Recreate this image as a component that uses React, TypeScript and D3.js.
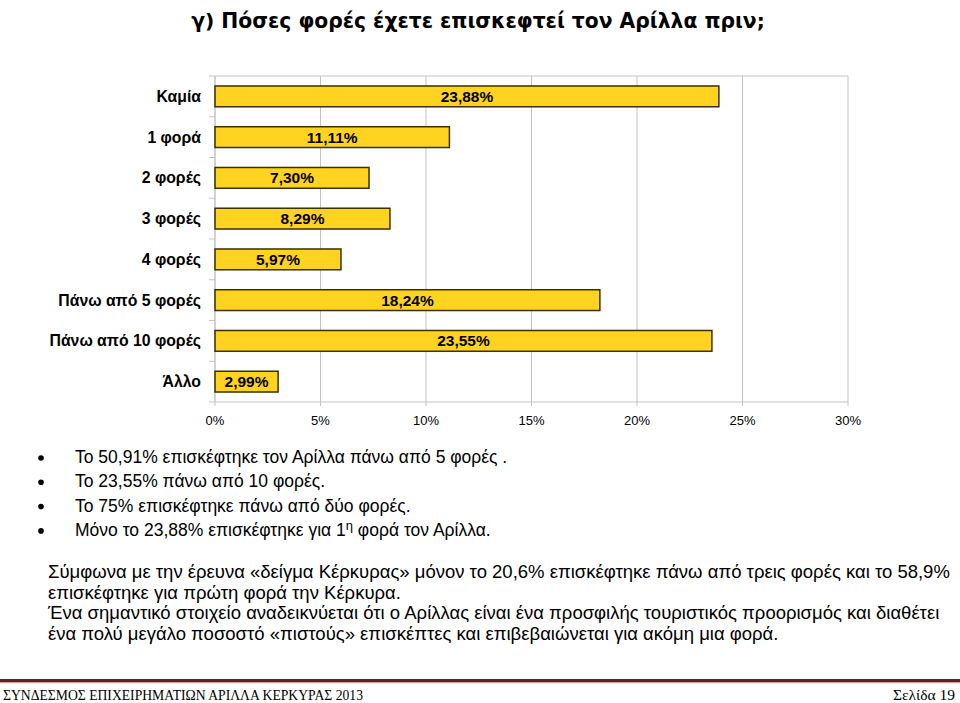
import React from "react";
import * as d3 from "d3";

const categories = ["Καμία", "1 φορά", "2 φορές", "3 φορές", "4 φορές", "Πάνω από 5 φορές", "Πάνω από 10 φορές", "Άλλο"];
const values = [23.88, 11.11, 7.3, 8.29, 5.97, 18.24, 23.55, 2.99];
const valueLabels = ["23,88%", "11,11%", "7,30%", "8,29%", "5,97%", "18,24%", "23,55%", "2,99%"];
const xTicks = [0, 5, 10, 15, 20, 25, 30];

const title = "γ) Πόσες φορές έχετε επισκεφτεί τον Αρίλλα πριν;";
const bullets = [
  ["Το 50,91% επισκέφτηκε τον Αρίλλα πάνω από 5 φορές .", "", ""],
  ["Το 23,55% πάνω από 10 φορές.", "", ""],
  ["Το 75% επισκέφτηκε πάνω από δύο φορές.", "", ""],
  ["Μόνο το 23,88% επισκέφτηκε για 1", "η", " φορά τον Αρίλλα."],
];
const paragraph = [
  "Σύμφωνα με την έρευνα «δείγμα Κέρκυρας» μόνον το 20,6% επισκέφτηκε πάνω από τρεις φορές και το 58,9%",
  "επισκέφτηκε για πρώτη φορά την Κέρκυρα.",
  "Ένα σημαντικό στοιχείο αναδεικνύεται ότι ο Αρίλλας είναι ένα προσφιλής τουριστικός προορισμός και διαθέτει",
  "ένα πολύ μεγάλο ποσοστό «πιστούς» επισκέπτες και επιβεβαιώνεται για ακόμη μια φορά.",
];
const footerLeft = "ΣΥΝΔΕΣΜΟΣ ΕΠΙΧΕΙΡΗΜΑΤΙΩΝ ΑΡΙΛΛΑ ΚΕΡΚΥΡΑΣ 2013";
const footerRight = "Σελίδα 19";

export default function App() {
  const W = 960, H = 703;
  const x = d3.scaleLinear().domain([0, 30]).range([215, 848]);
  const y = d3.scaleBand<string>().domain(categories).range([76, 402]).paddingInner(0.49).paddingOuter(0.245);
  const step = y.step();
  const sans = "'Liberation Sans', Arial, sans-serif";
  const bands = d3.range(categories.length + 1).map((i) => 76 + i * step);

  return (
    <div style={{ position: "absolute", left: 0, top: 0 }}>
      <svg width={W} height={H} viewBox={`0 0 ${W} ${H}`} style={{ display: "block", background: "#fff" }}>
        <text x={478} y={28} textAnchor="middle" fontFamily="'DejaVu Sans', Verdana, sans-serif" fontWeight="bold" fontSize={20.3} fill="#000">
          {title}
        </text>

        {/* grid */}
        {xTicks.map((t) => (
          <line key={"g" + t} x1={x(t)} x2={x(t)} y1={76} y2={406} stroke="#c4c4c4" strokeWidth={1} />
        ))}
        <line x1={215} x2={848} y1={76} y2={76} stroke="#c4c4c4" strokeWidth={1} />
        <line x1={215} x2={848} y1={402} y2={402} stroke="#c4c4c4" strokeWidth={1} />
        <line x1={215} x2={215} y1={76} y2={402} stroke="#c4c4c4" strokeWidth={1} />
        {bands.map((b, i) => (
          <line key={"t" + i} x1={209} x2={215} y1={b} y2={b} stroke="#d8b8b8" strokeWidth={1} />
        ))}

        {/* bars */}
        {categories.map((c, i) => (
          <g key={c}>
            <rect x={x(0)} y={y(c)} width={x(values[i]) - x(0)} height={y.bandwidth()} fill="#FFD320" stroke="#3a3000" strokeWidth={1.5} />
            <text x={(x(0) + x(values[i])) / 2} y={(y(c) as number) + y.bandwidth() / 2 + 5.5} textAnchor="middle" fontFamily={sans} fontWeight="bold" fontSize={15.5} fill="#000">
              {valueLabels[i]}
            </text>
            <text x={201} y={(y(c) as number) + y.bandwidth() / 2 + 5.5} textAnchor="end" fontFamily={sans} fontWeight="bold" fontSize={15.8} fill="#000">
              {c}
            </text>
          </g>
        ))}

        {/* x tick labels */}
        {xTicks.map((t) => (
          <text key={"l" + t} x={x(t)} y={425} textAnchor="middle" fontFamily={sans} fontSize={13} fill="#000">
            {t + "%"}
          </text>
        ))}

        {/* bullets */}
        {bullets.map((b, i) => {
          const by = 463 + i * 24.3;
          return (
            <g key={"b" + i}>
              <circle cx={41} cy={by - 5} r={2.8} fill="#000" />
              <text x={75} y={by} fontFamily={sans} fontSize={17.5} fill="#000">
                {b[0]}
                {b[1] && (
                  <tspan dy={-6} fontSize={13}>{b[1]}</tspan>
                )}
                {b[2] && <tspan dy={b[1] ? 6 : 0}>{b[2]}</tspan>}
              </text>
            </g>
          );
        })}

        {/* paragraph */}
        {paragraph.map((p, i) => (
          <text key={"p" + i} x={48} y={578 + i * 20.7} fontFamily={sans} fontSize={18.5} fill="#000">
            {p}
          </text>
        ))}

        {/* footer */}
        <rect x={0} y={679} width={960} height={3} fill="#622423" />
        <rect x={0} y={682} width={960} height={1.2} fill="#c8a0a0" />
        <text x={3} y={700} fontFamily="'Liberation Serif', 'DejaVu Serif', serif" fontSize={15.5} fill="#000" textLength={360} lengthAdjust="spacingAndGlyphs">
          {footerLeft}
        </text>
        <text x={955} y={700} textAnchor="end" fontFamily="'Liberation Serif', 'DejaVu Serif', serif" fontSize={15.5} fill="#000">
          {footerRight}
        </text>
      </svg>
    </div>
  );
}
